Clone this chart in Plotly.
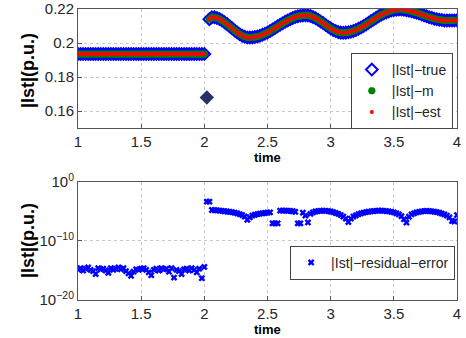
import plotly.graph_objects as go

# ---------------- data ----------------
time = [round(1 + 0.02 * i, 2) for i in range(151)]

ist_true = [
    0.1935, 0.1935, 0.1935, 0.1935, 0.1935, 0.1935, 0.1935, 0.1935, 0.1935, 0.1935,
    0.1935, 0.1935, 0.1935, 0.1935, 0.1935, 0.1935, 0.1935, 0.1935, 0.1935, 0.1935,
    0.1935, 0.1935, 0.1935, 0.1935, 0.1935, 0.1935, 0.1935, 0.1935, 0.1935, 0.1935,
    0.1935, 0.1935, 0.1935, 0.1935, 0.1935, 0.1935, 0.1935, 0.1935, 0.1935, 0.1935,
    0.1935, 0.1935, 0.1935, 0.1935, 0.1935, 0.1935, 0.1935, 0.1935, 0.1935, 0.1935,
    0.1935,
    0.1680,
    0.2140,
    0.2152, 0.2151, 0.2147, 0.2141, 0.2132, 0.2122, 0.2111, 0.2098, 0.2086, 0.2073,
    0.2062, 0.2052, 0.2043, 0.2037, 0.2033, 0.2032,
    0.2033, 0.2035, 0.2038, 0.2042, 0.2048, 0.2055, 0.2062, 0.2070, 0.2079, 0.2088,
    0.2098, 0.2107, 0.2116, 0.2125, 0.2133, 0.2140, 0.2147, 0.2153, 0.2157, 0.2160,
    0.2162, 0.2163,
    0.2162, 0.2159, 0.2153, 0.2146, 0.2137, 0.2127, 0.2117, 0.2106, 0.2096, 0.2086,
    0.2077, 0.2070, 0.2064, 0.2061, 0.2060,
    0.2061, 0.2063, 0.2066, 0.2071, 0.2077, 0.2084, 0.2091, 0.2100, 0.2109, 0.2119,
    0.2129, 0.2138, 0.2148, 0.2157, 0.2166, 0.2173, 0.2180, 0.2186, 0.2191, 0.2194,
    0.2196, 0.2197,
    0.2197, 0.2195, 0.2193, 0.2190, 0.2187, 0.2182, 0.2178, 0.2173, 0.2168, 0.2162,
    0.2157, 0.2152, 0.2148, 0.2143, 0.2140, 0.2137, 0.2135, 0.2133, 0.2133,
    0.2133, 0.2133, 0.2133, 0.2134,
]

ist_m = list(ist_true)
ist_m[51] = None          # no measurement drawn at the outlier instant
ist_est = list(ist_m)

residual = [
    1.6e-15, 2.5e-15, 1.0e-15, 2.0e-15, 3.2e-15, 1.3e-15, 7.9e-16, 2.5e-16, 2.5e-15, 1.6e-15,
    2.0e-15, 1.0e-15, 4.0e-16, 2.5e-15, 1.3e-15, 2.0e-15, 3.2e-15, 1.6e-15, 2.5e-15, 7.9e-16,
    3.2e-16, 1.3e-16, 6.3e-16, 1.6e-15, 1.3e-15, 2.0e-15, 2.5e-15, 1.3e-15, 5.0e-16, 1.6e-16,
    1.3e-15, 2.0e-15, 1.0e-15, 2.5e-15, 1.6e-15, 2.0e-15, 6.3e-16, 2.5e-15, 6.3e-17, 1.3e-15,
    7.9e-16, 2.5e-16, 1.6e-15, 2.0e-15, 1.0e-15, 2.5e-15, 1.3e-15, 5.0e-16, 2.0e-15, 5.0e-17,
    4.0e-15,
    4.7e-4, 4.7e-4,
    1.8e-5, 1.7e-5, 1.5e-5, 1.4e-5, 1.3e-5, 1.1e-5, 1.0e-5, 8.9e-6, 7.6e-6, 6.3e-6,
    5.0e-6, 3.5e-6, 2.5e-6, 1.4e-6, 4.0e-7, 1.0e-6, 2.0e-6, 2.8e-6, 3.5e-6, 4.5e-6,
    5.0e-6, 5.6e-6, 6.3e-6, 7.1e-6,
    1.0e-7, 1.0e-7, 1.0e-7,
    1.4e-5, 1.4e-5, 1.4e-5, 1.3e-5, 1.3e-5, 1.1e-5, 8.9e-6,
    1.0e-7, 1.0e-7, 6.3e-6, 2.0e-6, 1.4e-7, 4.0e-6, 7.1e-6, 1.0e-5, 1.2e-5, 1.3e-5,
    1.4e-5, 1.3e-5, 1.2e-5, 1.0e-5, 7.9e-6, 5.6e-6, 4.0e-6, 2.5e-6, 1.4e-6, 6.3e-7,
    1.6e-7, 6.3e-7, 1.4e-6, 2.2e-6, 3.5e-6, 5.0e-6, 6.3e-6, 7.9e-6, 9.3e-6, 1.07e-5,
    1.2e-5, 1.3e-5, 1.4e-5, 1.4e-5, 1.3e-5, 1.2e-5, 1.05e-5, 8.9e-6, 7.1e-6, 5.0e-6,
    3.2e-6, 1.6e-6, 5.0e-7, 1.3e-7, 1.3e-6, 3.2e-6, 5.0e-6, 7.1e-6, 8.9e-6, 1.07e-5,
    1.2e-5, 1.26e-5, 1.2e-5, 1.07e-5, 9.3e-6, 7.9e-6, 6.3e-6, 4.5e-6, 3.2e-6, 2.0e-6,
    1.0e-6, 2.5e-7, 2.0e-7, 2.5e-6,
]

x_ticks = [1, 1.5, 2, 2.5, 3, 3.5, 4]
x_ticktext = ["1", "1.5", "2", "2.5", "3", "3.5", "4"]
top_ticks = [0.16, 0.18, 0.2, 0.22]
top_ticktext = ["0.16", "0.18", "0.2", "0.22"]
bot_ticks = [1e-20, 1e-10, 1]
bot_ticktext = ["10<sup>−20</sup>", "10<sup>−10</sup>", "10<sup>0</sup>"]

# ---------------- styling ----------------
FONT = "Liberation Sans, Arial, sans-serif"
TXT = "#262626"
BLUE = "#0000FF"
GREEN = "#008000"
RED = "#FF0000"

true_symbols = ["diamond" if i == 51 else "diamond-open" for i in range(len(time))]
true_colors = ["#263366" if i == 51 else BLUE for i in range(len(time))]

fig = go.Figure()

fig.add_trace(go.Scatter(
    x=time, y=ist_true, mode="markers", name="|Ist|−true",
    marker=dict(symbol=true_symbols, size=9, color=true_colors,
                line=dict(width=2, color=true_colors)),
    xaxis="x", yaxis="y", legend="legend",
))
fig.add_trace(go.Scatter(
    x=time, y=ist_m, mode="markers", name="|Ist|−m",
    marker=dict(symbol="asterisk-open", size=6, color=GREEN,
                line=dict(width=2.5, color=GREEN)),
    xaxis="x", yaxis="y", legend="legend",
))
fig.add_trace(go.Scatter(
    x=time, y=ist_est, mode="markers", name="|Ist|−est",
    marker=dict(symbol="circle", size=4, color=RED, line=dict(width=0)),
    xaxis="x", yaxis="y", legend="legend",
))
fig.add_trace(go.Scatter(
    x=time, y=residual, mode="markers", name="|Ist|−residual−error",
    marker=dict(symbol="x", size=6, color=BLUE, line=dict(width=0)),
    xaxis="x2", yaxis="y2", legend="legend2",
))

axis_common = dict(
    showline=True, mirror=True, linecolor="#555555", linewidth=1,
    showgrid=True, gridcolor="#C8C8C8", griddash="dot", gridwidth=1,
    zeroline=False, ticks="inside", ticklen=4, tickcolor="#555555",
    tickfont=dict(family=FONT, size=15, color=TXT), automargin=False,
)

fig.update_layout(
    width=466, height=338,
    margin=dict(l=78, r=9, t=9, b=38),
    paper_bgcolor="white", plot_bgcolor="white",
    font=dict(family=FONT, color=TXT),
    xaxis=dict(domain=[0, 1], range=[1, 4], tickvals=x_ticks, ticktext=x_ticktext,
               anchor="y", **axis_common),
    yaxis=dict(domain=[0.591, 1], range=[0.15, 0.22], tickvals=top_ticks,
               ticktext=top_ticktext, anchor="x", **axis_common),
    xaxis2=dict(domain=[0, 1], range=[1, 4], tickvals=x_ticks, ticktext=x_ticktext,
                anchor="y2", **axis_common),
    yaxis2=dict(domain=[0, 0.4055], type="log", range=[-20, 0], tickvals=bot_ticks,
                ticktext=bot_ticktext, anchor="x2", **axis_common),
    legend=dict(x=0.989, y=0.849, xanchor="right", yanchor="top",
                bgcolor="white", bordercolor="#444444", borderwidth=1,
                font=dict(family=FONT, size=14, color=TXT),
                tracegroupgap=0),
    legend2=dict(x=0.995, y=0.186, xanchor="right", yanchor="top",
                 bgcolor="white", bordercolor="#444444", borderwidth=1,
                 font=dict(family=FONT, size=14, color=TXT)),
    showlegend=True,
    annotations=[
        dict(text="<b>time</b>", xref="paper", yref="paper", x=0.5, y=0.489,
             xanchor="center", yanchor="middle", showarrow=False,
             font=dict(family=FONT, size=13, color="#000000")),
        dict(text="<b>time</b>", xref="paper", yref="paper", x=0.5, y=-0.102,
             xanchor="center", yanchor="middle", showarrow=False,
             font=dict(family=FONT, size=13, color="#000000")),
        dict(text="<b>|Ist|(p.u.)</b>", xref="paper", yref="paper", x=-0.132, y=0.790,
             xanchor="center", yanchor="middle", showarrow=False, textangle=-90,
             font=dict(family=FONT, size=18, color="#000000")),
        dict(text="<b>|Ist|(p.u.)</b>", xref="paper", yref="paper", x=-0.132, y=0.206,
             xanchor="center", yanchor="middle", showarrow=False, textangle=-90,
             font=dict(family=FONT, size=18, color="#000000")),
    ],
)

fig.write_html("out.html", config={"displayModeBar": False},
               post_script="document.body.style.margin='0';")
